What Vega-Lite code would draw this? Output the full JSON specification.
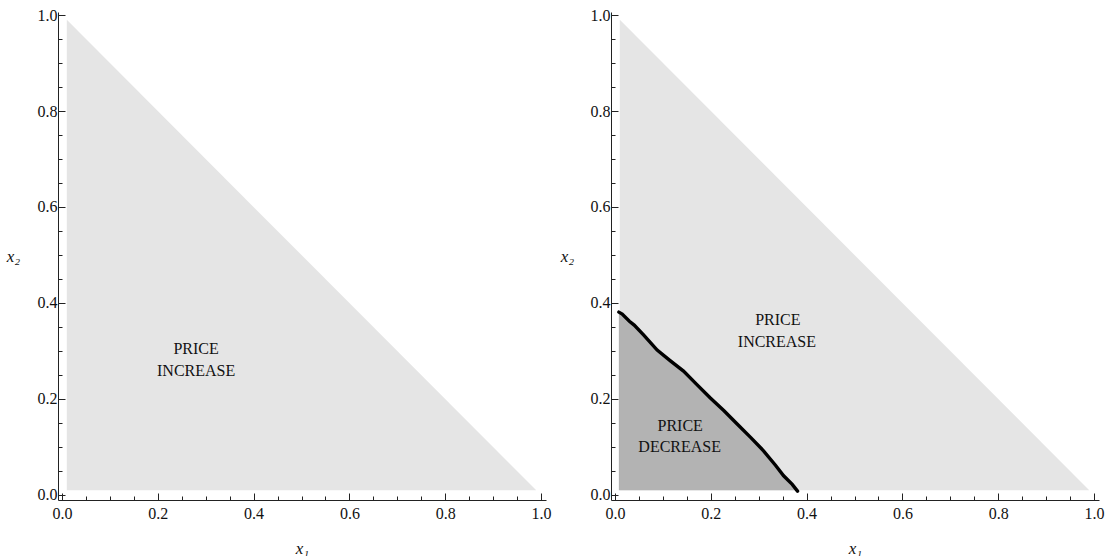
{
  "$schema": "https://vega.github.io/schema/vega-lite/v6.json",
  "padding": {"left": 6, "top": 7, "right": 0, "bottom": 0},
  "bounds": "flush",
  "spacing": 65,
  "config": {
    "view": {"stroke": null},
    "axis": {
      "domainColor": "#222222", "tickColor": "#222222", "tickWidth": 1, "domainWidth": 1,
      "labelFont": "Liberation Serif, Times New Roman, serif", "labelFontSize": 16, "labelColor": "#111111",
      "grid": false, "labelFlush": false, "labelOverlap": false,
      "titleFont": "Liberation Serif, Times New Roman, serif", "titleFontStyle": "italic", "titleFontWeight": "normal",
      "titleFontSize": 17, "titleColor": "#111111"
    }
  },
  "datasets": {
    "tri": [{"x": 0.01, "y": 0.99}, {"x": 0.99, "y": 0.01}],
    "curve": [
      {"x": 0.008, "y": 0.381}, {"x": 0.015, "y": 0.377}, {"x": 0.03, "y": 0.362},
      {"x": 0.04, "y": 0.354}, {"x": 0.06, "y": 0.333}, {"x": 0.088, "y": 0.302},
      {"x": 0.115, "y": 0.28}, {"x": 0.143, "y": 0.258}, {"x": 0.17, "y": 0.231},
      {"x": 0.199, "y": 0.202}, {"x": 0.227, "y": 0.176}, {"x": 0.255, "y": 0.148},
      {"x": 0.283, "y": 0.12}, {"x": 0.31, "y": 0.092}, {"x": 0.335, "y": 0.062},
      {"x": 0.352, "y": 0.04}, {"x": 0.37, "y": 0.022}, {"x": 0.381, "y": 0.008}
    ],
    "labelsLeft": [
      {"x": 0.28, "y": 0.305, "t": "PRICE"},
      {"x": 0.28, "y": 0.259, "t": "INCREASE"}
    ],
    "labelsRight": [
      {"x": 0.34, "y": 0.364, "t": "PRICE"},
      {"x": 0.338, "y": 0.319, "t": "INCREASE"},
      {"x": 0.136, "y": 0.144, "t": "PRICE"},
      {"x": 0.135, "y": 0.099, "t": "DECREASE"}
    ]
  },
  "hconcat": [
    {
      "width": 488, "height": 488,
      "encoding": {
        "x": {"field": "x", "type": "quantitative",
          "scale": {"domain": [-0.0084, 1.0104], "nice": false, "zero": false},
          "axis": {
            "title": "x₁", "titleX": 244, "titleY": 48, "titleBaseline": "middle", "titleAlign": "center",
            "values": [0,0.05,0.1,0.15,0.2,0.25,0.3,0.35,0.4,0.45,0.5,0.55,0.6,0.65,0.7,0.75,0.8,0.85,0.9,0.95,1],
            "labelExpr": "abs(datum.value*5-round(datum.value*5))<0.001 ? format(datum.value,'.1f') : ''",
            "tickSize": {"condition": {"test": "abs(datum.value*5-round(datum.value*5))<0.001", "value": -7}, "value": -4},
            "labelPadding": 12
          }},
        "y": {"field": "y", "type": "quantitative",
          "scale": {"domain": [-0.0105, 1.0063], "nice": false, "zero": false},
          "axis": {
            "title": "x₂", "titleAngle": 0, "titleX": -45, "titleY": 244, "titleBaseline": "middle", "titleAlign": "center",
            "values": [0,0.05,0.1,0.15,0.2,0.25,0.3,0.35,0.4,0.45,0.5,0.55,0.6,0.65,0.7,0.75,0.8,0.85,0.9,0.95,1],
            "labelExpr": "abs(datum.value*5-round(datum.value*5))<0.001 ? format(datum.value,'.1f') : ''",
            "tickSize": {"condition": {"test": "abs(datum.value*5-round(datum.value*5))<0.001", "value": -7}, "value": -4},
            "labelPadding": 8
          }}
      },
      "layer": [
        {"data": {"name": "tri"}, "mark": {"type": "area", "color": "#e5e5e5", "opacity": 1},
         "encoding": {"y2": {"datum": 0.01}}},
        {"data": {"name": "labelsLeft"},
         "mark": {"type": "text", "font": "Liberation Serif, Times New Roman, serif", "fontSize": 16, "color": "#111111", "align": "center", "baseline": "middle"},
         "encoding": {"text": {"field": "t"}}}
      ]
    },
    {
      "width": 488, "height": 488,
      "encoding": {
        "x": {"field": "x", "type": "quantitative",
          "scale": {"domain": [-0.0084, 1.0104], "nice": false, "zero": false},
          "axis": {
            "title": "x₁", "titleX": 244, "titleY": 48, "titleBaseline": "middle", "titleAlign": "center",
            "values": [0,0.05,0.1,0.15,0.2,0.25,0.3,0.35,0.4,0.45,0.5,0.55,0.6,0.65,0.7,0.75,0.8,0.85,0.9,0.95,1],
            "labelExpr": "abs(datum.value*5-round(datum.value*5))<0.001 ? format(datum.value,'.1f') : ''",
            "tickSize": {"condition": {"test": "abs(datum.value*5-round(datum.value*5))<0.001", "value": -7}, "value": -4},
            "labelPadding": 12
          }},
        "y": {"field": "y", "type": "quantitative",
          "scale": {"domain": [-0.0105, 1.0063], "nice": false, "zero": false},
          "axis": {
            "title": "x₂", "titleAngle": 0, "titleX": -44, "titleY": 244, "titleBaseline": "middle", "titleAlign": "center",
            "values": [0,0.05,0.1,0.15,0.2,0.25,0.3,0.35,0.4,0.45,0.5,0.55,0.6,0.65,0.7,0.75,0.8,0.85,0.9,0.95,1],
            "labelExpr": "abs(datum.value*5-round(datum.value*5))<0.001 ? format(datum.value,'.1f') : ''",
            "tickSize": {"condition": {"test": "abs(datum.value*5-round(datum.value*5))<0.001", "value": -7}, "value": -4},
            "labelPadding": 8
          }}
      },
      "layer": [
        {"data": {"name": "tri"}, "mark": {"type": "area", "color": "#e5e5e5", "opacity": 1},
         "encoding": {"y2": {"datum": 0.01}}},
        {"data": {"name": "curve"}, "mark": {"type": "area", "color": "#b3b3b3", "opacity": 1},
         "encoding": {"y2": {"datum": 0.01}}},
        {"data": {"name": "curve"}, "mark": {"type": "line", "color": "#000000", "strokeWidth": 3.4, "strokeCap": "round"},
         "encoding": {}},
        {"data": {"name": "labelsRight"},
         "mark": {"type": "text", "font": "Liberation Serif, Times New Roman, serif", "fontSize": 16, "color": "#111111", "align": "center", "baseline": "middle"},
         "encoding": {"text": {"field": "t"}}}
      ]
    }
  ]
}
